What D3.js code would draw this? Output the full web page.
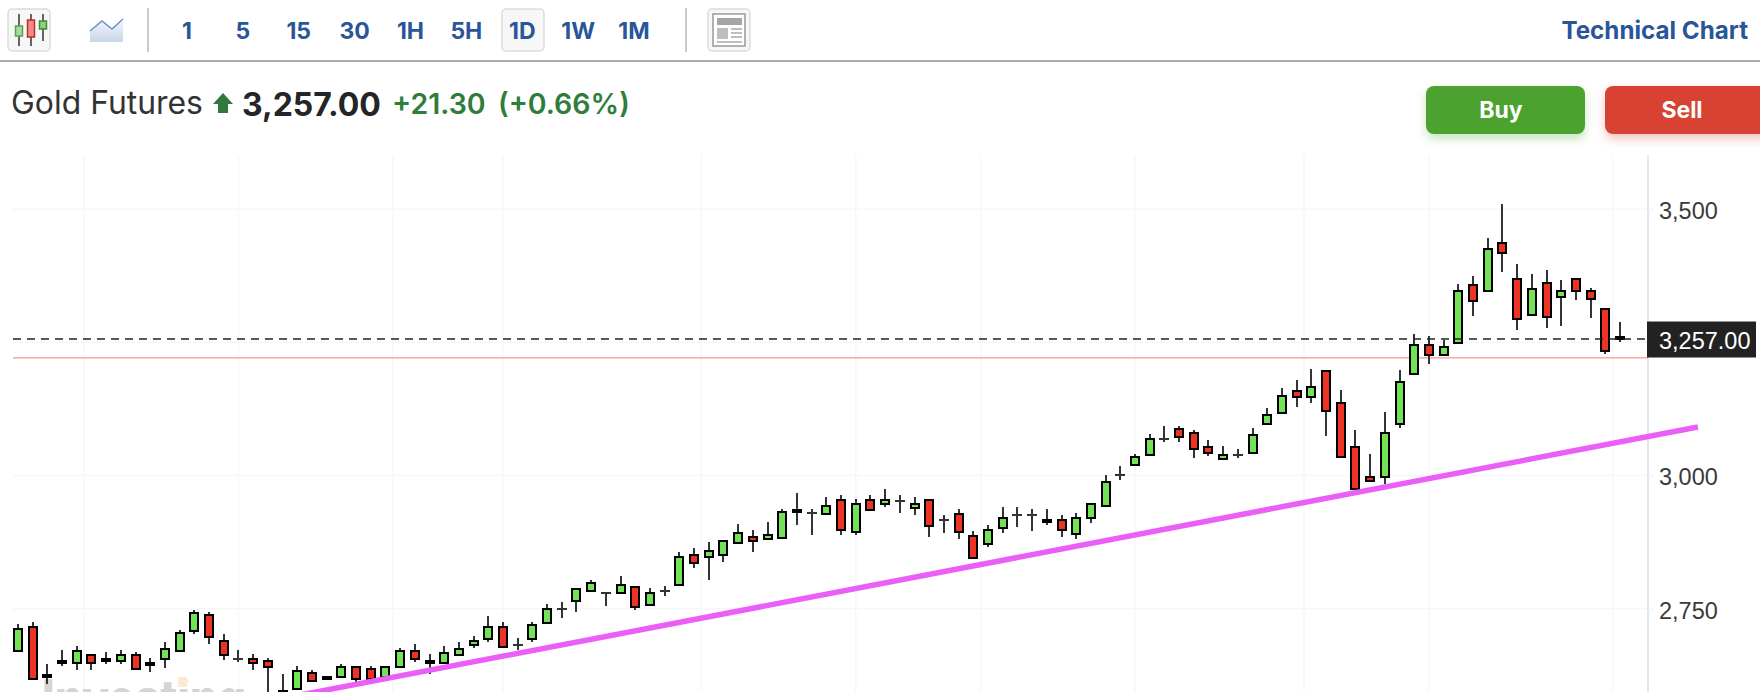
<!DOCTYPE html>
<html>
<head>
<meta charset="utf-8">
<title>Gold Futures</title>
<script src="https://cdn.jsdelivr.net/npm/d3@7"></script>
<style>
  html, body { margin: 0; padding: 0; background: #fff; overflow: hidden; }
  svg { display: block; font-family: Inter, "Liberation Sans", sans-serif; }
</style>
</head>
<body>
<script>
// daily candles, oldest first
var highs = [
  2721.2, 2725, 2646.2, 2672.5, 2680, 2665, 2668.7, 2672.5, 2668.7, 2657.5,
  2687.5, 2710, 2747.5, 2743.7, 2702.5, 2672.5, 2665, 2657.5, 2627.4, 2642.4,
  2635, 2621.8, 2646.2, 2640.6, 2642.4, 2641, 2676.2, 2683.7, 2665, 2680,
  2687.5, 2698.7, 2736.2, 2725, 2695, 2725, 2758.8, 2762.5, 2787, 2803.8,
  2780, 2811.3, 2790.6, 2788.8, 2792.5, 2856.3, 2863.8, 2875, 2877, 2908.8,
  2897.6, 2912.6, 2937.5, 2967.5, 2937.5, 2960, 2963.7, 2956.2, 2963.7, 2975,
  2963.7, 2960, 2954.4, 2926.2, 2937.5, 2896.2, 2907.5, 2941.2, 2941.2, 2937.5,
  2937.5, 2926.2, 2930, 2947, 3001.3, 3016.9, 3039.4, 3076.9, 3091.9, 3091.9,
  3084.4, 3065.7, 3054.4, 3050.6, 3088.2, 3125.7, 3163.2, 3178.2, 3200.7, 3195.1,
  3159.5, 3084.4, 3039.4, 3118.2, 3197, 3265.5, 3261.8, 3254.3, 3359.3, 3374.3,
  3445.6, 3509.4, 3396.8, 3378.1, 3385.6, 3366.8, 3368.7, 3351.8, 3312.4, 3288
];
var lows = [
  2671.2, 2618.7, 2608.7, 2642.4, 2635, 2635, 2646.2, 2646.2, 2636.8, 2631.2,
  2638.7, 2670.6, 2702.5, 2683.7, 2653.7, 2650, 2635, 2585, 2585, 2598,
  2613, 2618, 2621, 2612.4, 2618, 2620, 2640.6, 2650, 2627.4, 2647,
  2662, 2676.2, 2687.5, 2677, 2672.5, 2687.5, 2723.1, 2732.5, 2743.7, 2782,
  2755, 2778, 2747.5, 2756, 2773.8, 2793, 2826.3, 2803.8, 2837.5, 2872,
  2856.3, 2880, 2882, 2907.5, 2888.7, 2927, 2888.7, 2888.7, 2935, 2941.2,
  2930, 2926.2, 2885, 2892.4, 2881.2, 2845, 2866.2, 2892.4, 2903.7, 2896.2,
  2907.5, 2885, 2881.2, 2911.2, 2943, 2990.6, 3018, 3037, 3061.9, 3061.9,
  3031.9, 3035.6, 3029, 3031.9, 3041, 3097, 3116, 3129.4, 3136.9, 3073.2,
  3033, 2973, 2988, 2983.1, 3088.2, 3190, 3209.2, 3225, 3248, 3299.3,
  3346, 3381.8, 3273, 3300, 3276.8, 3280.5, 3329.3, 3295.5, 3228, 3250.5
];
var opens = [
  2671.2, 2715.6, 2625.6, 2651.8, 2648, 2663, 2655.6, 2651.8, 2663, 2648,
  2655.6, 2670.6, 2708.1, 2738.1, 2689.3, 2655.6, 2655.6, 2651.8, 2595.5, 2599.3,
  2629.3, 2621.8, 2621.8, 2640.6, 2636.8, 2621.8, 2640.6, 2670.6, 2651.8, 2648,
  2663.1, 2681.8, 2693.1, 2715.6, 2681.8, 2693.1, 2723.1, 2750, 2764.4, 2783.1,
  2780, 2779.4, 2790.6, 2756.9, 2783.8, 2794.4, 2850.7, 2846.9, 2850.7, 2873.2,
  2884.4, 2880.7, 2883, 2935.6, 2928.7, 2928.1, 2954.4, 2894.3, 2954.4, 2946.9,
  2951.2, 2939.3, 2954.4, 2916.8, 2928.1, 2886.8, 2871.8, 2901.8, 2925, 2925,
  2916.8, 2916.8, 2890.6, 2920.6, 2943.1, 3000, 3018.8, 3037.5, 3067.5, 3086.3,
  3078.8, 3052.5, 3030, 3037.5, 3041.3, 3097.5, 3116.3, 3157.6, 3146.3, 3195.1,
  3135.1, 3052.5, 2996.2, 2996.2, 3097.5, 3191.3, 3244.9, 3226.1, 3248.6, 3357.4,
  3346.2, 3436.2, 3368.7, 3301.1, 3361.2, 3334.9, 3368.7, 3346.2, 3312.4, 3259.9
];
var closes = [
  2711.9, 2618.7, 2621.8, 2648, 2670.6, 2648, 2651.8, 2663, 2636.8, 2644.3,
  2674.3, 2704.4, 2741.9, 2696.8, 2663.1, 2655.6, 2648, 2640.6, 2593, 2633,
  2614.3, 2618, 2640.6, 2618, 2618, 2640.6, 2670.6, 2655.6, 2648, 2666.8,
  2674.3, 2689.3, 2715.6, 2678.1, 2681.8, 2719.4, 2749.4, 2750, 2786.9, 2798.1,
  2780, 2794.4, 2753.1, 2779.4, 2783.8, 2846.9, 2835.7, 2858.2, 2876.9, 2891.9,
  2876.9, 2888.2, 2931.8, 2931.8, 2928.7, 2943.1, 2898.1, 2946.9, 2935.6, 2954.4,
  2951.2, 2946.9, 2905.6, 2916.8, 2894.3, 2845.6, 2898.1, 2920.6, 2925, 2925,
  2913.1, 2898.1, 2920.6, 2946.9, 2988.1, 3000, 3033.8, 3067.5, 3067.5, 3071.3,
  3048.8, 3041.3, 3037.5, 3037.5, 3075, 3112.6, 3150, 3146.3, 3165.1, 3120.1,
  3033.8, 2973.7, 2988.7, 3078.8, 3176.3, 3244.9, 3226.1, 3241.1, 3346.2, 3327.4,
  3425, 3417.5, 3293.7, 3349.9, 3297.4, 3346.2, 3346.2, 3331.2, 3233.6, 3257
];

var priceTicks = [2750, 3000, 3500];
var extraGrid = [3250];
var timeGrid = [4.5, 15, 25.5, 33, 46.5, 57, 65.5, 76, 87.5, 96, 108.5];
var lastPrice = 3257;
var redLevel = 3220.6;
var trendIndex = [19.2, 114.3];
var trendPrice = [2588, 3091];

var intervals = ['1', '5', '15', '30', '1H', '5H', '1D', '1W', '1M'];

var width = 1760, height = 692;
var axisX = 1648, plotTop = 155, plotLeft = 13;

var svg = d3.select('body').append('svg')
  .attr('width', width)
  .attr('height', height);

var x = d3.scaleLinear().domain([0, 109]).range([18, 1620]);
var y = d3.scaleLinear().domain([2750, 3500]).range([608.7, 209]);

// ---- toolbar ----
var blue = '#2a5598';
var toolbar = svg.append('g');

function toolBox(g, x0, x1) {
  g.append('rect').attr('x', x0).attr('y', 9).attr('width', x1 - x0).attr('height', 42)
    .attr('rx', 4).attr('fill', '#f7f7f7').attr('stroke', '#dcdcdc').attr('stroke-width', 1.5);
}
toolBox(toolbar, 8, 50);
toolBox(toolbar, 502, 544);
toolBox(toolbar, 708, 750);

// candle icon
[[19, 14, 46, 26, 36, '#5aa24c', '#a9dca0'],
 [31, 14, 46, 20, 37, '#b8312c', '#f28b86'],
 [43, 14, 41, 21, 29, '#3f8a3c', '#8fd07f']].forEach(function(c) {
  toolbar.append('line').attr('x1', c[0]).attr('x2', c[0]).attr('y1', c[1]).attr('y2', c[2])
    .attr('stroke', '#333').attr('stroke-width', 1.5);
  toolbar.append('rect').attr('x', c[0] - 3.5).attr('y', c[3]).attr('width', 7).attr('height', c[4] - c[3])
    .attr('fill', c[6]).attr('stroke', c[5]).attr('stroke-width', 1.5);
});

// line icon
var grad = svg.append('defs').append('linearGradient').attr('id', 'areaFill')
  .attr('x1', 0).attr('x2', 0).attr('y1', 0).attr('y2', 1);
grad.append('stop').attr('offset', '0%').attr('stop-color', '#f4f6fb');
grad.append('stop').attr('offset', '100%').attr('stop-color', '#c9d6ea');
toolbar.append('path').attr('d', 'M90,31L102,21L112,29L123,19V42H90Z').attr('fill', 'url(#areaFill)');
toolbar.append('path').attr('d', 'M90,31L102,21L112,29L123,19').attr('fill', 'none')
  .attr('stroke', '#6d8fc4').attr('stroke-width', 1.5);

// news icon
var news = toolbar.append('g').attr('transform', 'translate(-1,0)');
news.append('rect').attr('x', 714).attr('y', 14).attr('width', 32).attr('height', 32)
  .attr('fill', '#fff').attr('stroke', '#999').attr('stroke-width', 1.5);
news.append('rect').attr('x', 718).attr('y', 18).attr('width', 25).attr('height', 7).attr('fill', '#a5a5a5');
news.append('rect').attr('x', 718).attr('y', 28).attr('width', 11).attr('height', 11).attr('fill', '#bdbdbd');
[28, 32, 36].forEach(function(ly) {
  news.append('rect').attr('x', 732).attr('y', ly).attr('width', 11).attr('height', 2).attr('fill', '#bdbdbd');
});
news.append('rect').attr('x', 718).attr('y', 41).attr('width', 25).attr('height', 2).attr('fill', '#bdbdbd');

toolbar.selectAll('line.sep').data([148, 686]).enter().append('line').attr('class', 'sep')
  .attr('x1', function(d) { return d; }).attr('x2', function(d) { return d; })
  .attr('y1', 8).attr('y2', 52).attr('stroke', '#b9b9b9').attr('stroke-width', 1.5);

var intervalX = d3.scalePoint().domain(intervals).range([187, 634]);
toolbar.selectAll('text.interval').data(intervals).enter().append('text').attr('class', 'interval')
  .attr('x', function(d) { return intervalX(d); })
  .attr('y', 39)
  .attr('text-anchor', 'middle')
  .attr('font-size', 23).attr('font-weight', 700).attr('fill', blue)
  .text(function(d) { return d; });

toolbar.append('text').attr('x', 1748).attr('y', 39).attr('text-anchor', 'end')
  .attr('font-size', 24.2).attr('font-weight', 700).attr('fill', blue).text('Technical Chart');

svg.append('rect').attr('x', 0).attr('y', 60).attr('width', width).attr('height', 2).attr('fill', '#aaa');

// ---- quote header ----
var header = svg.append('g');
header.append('text').attr('x', 11).attr('y', 114).attr('font-size', 31.9).attr('fill', '#333').text('Gold Futures');
header.append('path').attr('d', 'M223,93L233,104H228V113H218V104H213Z').attr('fill', '#2f7a3a');
header.append('text').attr('x', 242).attr('y', 116).attr('font-size', 32).attr('font-weight', 700)
  .attr('fill', '#232526').text('3,257.00');
header.append('text').attr('x', 392).attr('y', 114).attr('font-size', 28.5).attr('font-weight', 600)
  .attr('fill', '#2f7d3c').text('+21.30');
header.append('text').attr('x', 498).attr('y', 114).attr('font-size', 28.5).attr('font-weight', 600)
  .attr('fill', '#2f7d3c').text('(+0.66%)');

var defs = svg.select('defs');
[[1426, 159, '#4ca22f', 'Buy', 1501, 'buyShadow'], [1605, 171, '#d84331', 'Sell', 1682, 'sellShadow']].forEach(function(b) {
  var f = defs.append('filter').attr('id', b[5])
    .attr('x', '-20%').attr('y', '-20%').attr('width', '140%').attr('height', '170%');
  f.append('feDropShadow').attr('dx', 0).attr('dy', 5).attr('stdDeviation', 5)
    .attr('flood-color', b[2]).attr('flood-opacity', 0.3);
  header.append('rect').attr('x', b[0]).attr('y', 86).attr('width', b[1]).attr('height', 48)
    .attr('rx', 8).attr('fill', b[2]).attr('filter', 'url(#' + b[5] + ')');
  header.append('text').attr('x', b[4]).attr('y', 118).attr('text-anchor', 'middle')
    .attr('font-size', 23).attr('font-weight', 700).attr('fill', '#fff').text(b[3]);
});

// ---- grid ----
var grid = svg.append('g');
grid.selectAll('line.v').data(timeGrid).enter().append('line').attr('class', 'v')
  .attr('x1', function(d) { return x(d); }).attr('x2', function(d) { return x(d); })
  .attr('y1', plotTop).attr('y2', height)
  .attr('stroke', '#f6f7f8').attr('stroke-width', 1.5);
grid.selectAll('line.h').data(priceTicks.concat(extraGrid)).enter().append('line').attr('class', 'h')
  .attr('x1', plotLeft).attr('x2', axisX)
  .attr('y1', function(d) { return y(d); }).attr('y2', function(d) { return y(d); })
  .attr('stroke', '#f6f7f8').attr('stroke-width', 1.5);

// watermark, mostly cut off by the bottom edge
svg.append('text').attr('x', 42).attr('y', 717).attr('font-size', 52).attr('font-weight', 800)
  .attr('textLength', 204).attr('lengthAdjust', 'spacingAndGlyphs')
  .attr('fill', '#d4d4d4').text('Investing');
svg.append('rect').attr('x', 178).attr('y', 677).attr('width', 9).attr('height', 10).attr('fill', '#fbe9d3');

// ---- right axis ----
svg.append('line').attr('x1', axisX).attr('x2', axisX).attr('y1', plotTop).attr('y2', height)
  .attr('stroke', '#e2e7ee').attr('stroke-width', 2);

var axis = svg.append('g').attr('transform', 'translate(' + axisX + ',0)')
  .call(d3.axisRight(y).tickValues(priceTicks).tickFormat(d3.format(',')).tickSize(6).tickPadding(5));
axis.select('.domain').remove();
axis.selectAll('line').attr('stroke', '#f0f1f3');
axis.selectAll('text').attr('font-size', 23.5).attr('fill', '#3a3a3a').attr('dy', '0.4em')
  .attr('font-family', '"Liberation Sans", sans-serif');

// ---- price lines ----
svg.append('line').attr('x1', plotLeft).attr('x2', axisX)
  .attr('y1', y(redLevel)).attr('y2', y(redLevel))
  .attr('stroke', '#f09a8e').attr('stroke-width', 1.2);

var candles = svg.append('g').attr('shape-rendering', 'crispEdges');
var up = function(i) { return closes[i] >= opens[i]; };
var idx = d3.range(highs.length);

candles.selectAll('line.wick').data(idx).enter().append('line').attr('class', 'wick')
  .attr('x1', function(i) { return x(i); }).attr('x2', function(i) { return x(i); })
  .attr('y1', function(i) { return y(highs[i]); })
  .attr('y2', function(i) { return y(lows[i]); })
  .attr('stroke', '#2f3539').attr('stroke-width', 2);

// open == close is drawn as a flat dash
candles.selectAll('line.flat').data(idx.filter(function(i) { return opens[i] === closes[i]; }))
  .enter().append('line').attr('class', 'flat')
  .attr('x1', function(i) { return x(i) - 5; }).attr('x2', function(i) { return x(i) + 5; })
  .attr('y1', function(i) { return y(opens[i]); }).attr('y2', function(i) { return y(opens[i]); })
  .attr('stroke', '#2f3539').attr('stroke-width', 2);

candles.selectAll('rect.body').data(idx.filter(function(i) { return opens[i] !== closes[i]; }))
  .enter().append('rect').attr('class', 'body')
  .attr('x', function(i) { return x(i) - 4; })
  .attr('width', 8)
  .attr('y', function(i) { return y(Math.max(opens[i], closes[i])); })
  .attr('height', function(i) { return Math.abs(y(opens[i]) - y(closes[i])); })
  .attr('fill', function(i) { return up(i) ? '#72e356' : '#ee3224'; })
  .attr('stroke', '#000').attr('stroke-width', 2);

svg.append('line').attr('x1', plotLeft).attr('x2', axisX)
  .attr('y1', y(lastPrice) + 0.5).attr('y2', y(lastPrice) + 0.5)
  .attr('stroke', '#222').attr('stroke-width', 1.3).attr('stroke-dasharray', '8 6');

// trend line sits over the candles
svg.append('line')
  .attr('x1', x(trendIndex[0])).attr('y1', y(trendPrice[0]))
  .attr('x2', x(trendIndex[1])).attr('y2', y(trendPrice[1]))
  .attr('stroke', '#ea5ff6').attr('stroke-width', 5.5);

// last price badge
svg.append('rect').attr('x', axisX - 1).attr('y', y(lastPrice) - 17).attr('width', 109).attr('height', 36).attr('fill', '#222');
svg.append('text').attr('x', axisX + 11).attr('y', y(lastPrice) + 10)
  .attr('font-size', 23.5).attr('font-family', '"Liberation Sans", sans-serif')
  .attr('fill', '#fff').text(d3.format(',.2f')(lastPrice));
</script>
</body>
</html>
